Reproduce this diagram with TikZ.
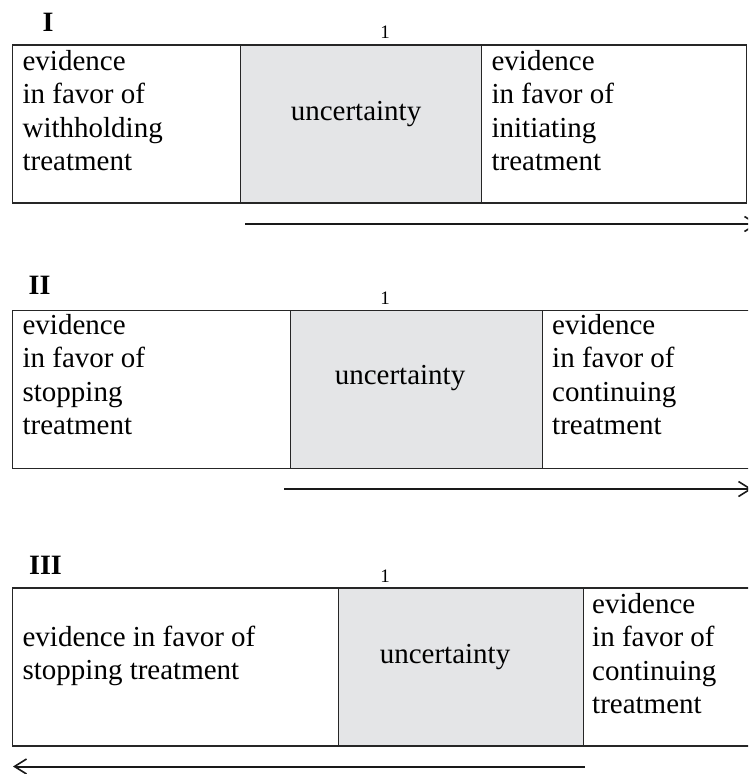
\documentclass[tikz,border=0pt]{standalone}
\usepackage{fontspec}
\setmainfont{Liberation Serif}
\usetikzlibrary{arrows.meta}
\definecolor{uncgray}{RGB}{228,229,231}
\tikzset{
  cell/.style={draw=black!85, line width=1.4pt, anchor=north west, inner sep=0pt, minimum height=158pt},
  unc/.style={cell, fill=uncgray},
  txt/.style={anchor=north west, inner sep=0pt, align=left, font=\fontsize{29}{33.5}\selectfont},
  mid/.style={anchor=base, inner sep=0pt, font=\fontsize{29}{33.5}\selectfont},
  part/.style={anchor=base, inner sep=0pt, font=\fontsize{28}{30}\selectfont\bfseries},
  onelbl/.style={anchor=base, inner sep=0pt, font=\fontsize{19}{21}\selectfont},
  arr/.style={line width=2pt, draw=black!90, -{Straight Barb[length=12pt,width=15pt,line width=1.6pt]}}
}

\begin{document}
\begin{tikzpicture}[x=1pt,y=-1pt]
\path[use as bounding box] (0,0) rectangle (748,774);
\clip (0,0) rectangle (748,774);

% I
\node[part] (p1) at (48,31) {I};
\node[onelbl] (o1) at (385,38) {1};
\node[cell,minimum width=228pt] (w1) at (12,44.4) {};
\node[unc,minimum width=241pt] (u1) at (240,44.4) {};
\node[cell,minimum width=264.7pt] (i1) at (481,44.4) {};
\node[txt] (tw1) at (22.4,50) {evidence\\in favor of\\withholding\\treatment};
\node[mid] (tu1) at (356,120) {uncertainty};
\node[txt] (ti1) at (491.4,50) {evidence\\in favor of\\initiating\\treatment};
\coordinate (a1s) at (245,224);
\coordinate (a1e) at (758,224);
\draw[arr] (a1s) -- (a1e);

% II
\node[part] (p2) at (39.6,294.5) {II};
\node[onelbl] (o2) at (385,304) {1};
\node[cell,minimum width=277.6pt] (s2) at (12,309.5) {};
\node[unc,minimum width=251.9pt] (u2) at (289.6,309.5) {};
\node[cell,minimum width=230pt] (c2) at (541.5,309.5) {};
\node[txt] (ts2) at (22.4,313.7) {evidence\\in favor of\\stopping\\treatment};
\node[mid] (tu2) at (400,384) {uncertainty};
\node[txt] (tc2) at (552,313.7) {evidence\\in favor of\\continuing\\treatment};
\coordinate (a2s) at (284,489);
\coordinate (a2e) at (752,489);
\draw[arr] (a2s) -- (a2e);

% III
\node[part] (p3) at (45.5,574) {III};
\node[onelbl] (o3) at (385,582) {1};
\node[cell,minimum width=326pt] (s3) at (12,587.4) {};
\node[unc,minimum width=244.5pt] (u3) at (338,587.4) {};
\node[cell,minimum width=200pt] (c3) at (582.5,587.4) {};
\node[txt] (ts3) at (22.4,625.7) {evidence in favor of\\stopping treatment};
\node[mid] (tu3) at (445,663) {uncertainty};
\node[txt] (tc3) at (592,592.7) {evidence\\in favor of\\continuing\\treatment};
\coordinate (a3s) at (584.5,766.5);
\coordinate (a3e) at (13,766.5);
\draw[arr] (a3s) -- (a3e);

\end{tikzpicture}
\end{document}
